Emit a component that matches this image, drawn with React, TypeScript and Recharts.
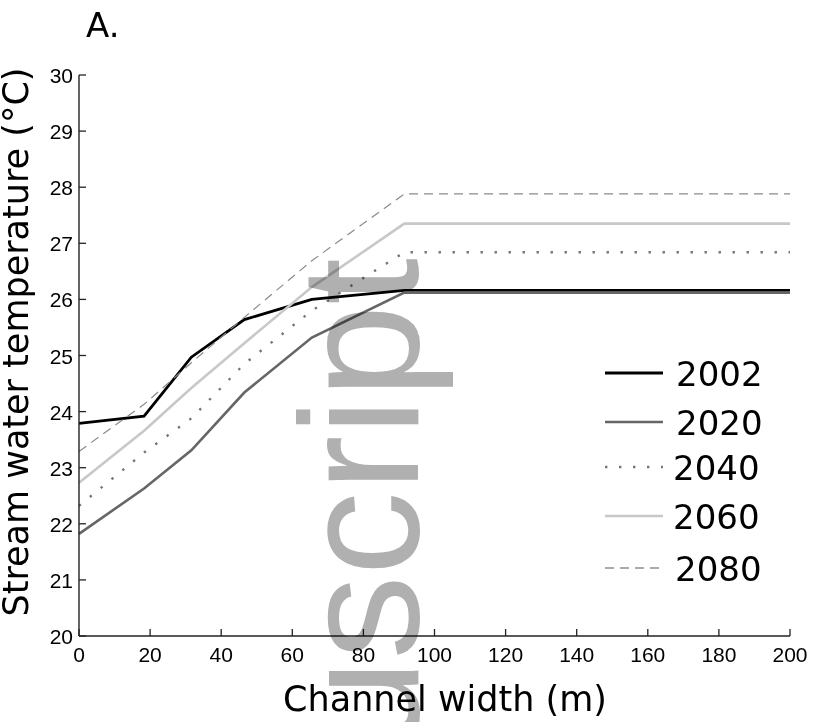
import React from 'react';
import { LineChart, Line, XAxis, YAxis, Legend, Label } from 'recharts';

// Channel width (m) at each breakpoint of the curves
const channelWidth = [0, 18.3, 31.6, 46.5, 65.5, 91.5, 200];
// Stream water temperature (°C) for each scenario year
const temp2002 = [23.79, 23.92, 24.97, 25.64, 26.0, 26.16, 26.16];
const temp2020 = [21.82, 22.63, 23.31, 24.34, 25.32, 26.12, 26.12];
const temp2040 = [22.32, 23.27, 23.88, 24.85, 25.8, 26.84, 26.84];
const temp2060 = [22.73, 23.66, 24.42, 25.22, 26.22, 27.35, 27.35];
const temp2080 = [23.29, 24.13, 24.87, 25.68, 26.69, 27.88, 27.88];

const years = ['2002', '2020', '2040', '2060', '2080'];
const seriesValues = [temp2002, temp2020, temp2040, temp2060, temp2080];

const xTicks = [0, 20, 40, 60, 80, 100, 120, 140, 160, 180, 200];
const yTicks = [20, 21, 22, 23, 24, 25, 26, 27, 28, 29, 30];

const data = channelWidth.map((w, i) => {
  const row: Record<string, number> = { width: w };
  years.forEach((y, k) => {
    row[y] = seriesValues[k][i];
  });
  return row;
});

const styles: Record<string, { stroke: string; width: number; dash?: string; legendStroke?: string; legendWidth?: number }> = {
  '2002': { stroke: '#000000', width: 2.8 },
  '2020': { stroke: '#666666', width: 2.6 },
  '2040': { stroke: '#777777', width: 2.4, dash: '2.4 11.6' },
  '2060': { stroke: '#c8c8c8', width: 2.6 },
  '2080': { stroke: '#8a8a8a', width: 1.2, dash: '9 6', legendStroke: '#aaaaaa', legendWidth: 2.2 },
};

const SANS = '"DejaVu Sans", Verdana, sans-serif';
const ARIAL = '"Liberation Sans", Arial, Helvetica, sans-serif';

const XTick = (props: any) => {
  const { x, y, payload } = props;
  return (
    <g>
      <line x1={x} x2={x} y1={y} y2={y - 7} stroke="#222" strokeWidth={1.3} />
      <text x={x} y={y + 26} textAnchor="middle" fontFamily={ARIAL} fontSize={21} fill="#000">
        {payload.value}
      </text>
    </g>
  );
};

const YTick = (props: any) => {
  const { x, y, payload } = props;
  return (
    <g>
      <line x1={x} x2={x + 7} y1={y} y2={y} stroke="#222" strokeWidth={1.3} />
      <text x={x - 6} y={y + 8} textAnchor="end" fontFamily={ARIAL} fontSize={21} fill="#000">
        {payload.value}
      </text>
    </g>
  );
};

const legendLineY = [28, 77, 122, 171, 223];
const legendTextX = [76, 76, 73, 73, 75];

const LegendBox = () => (
  <svg width={210} height={245} style={{ display: 'block' }}>
    {years.map((yr, i) => {
      const s = styles[yr];
      return (
        <g key={yr}>
          <line
            x1={5}
            x2={63}
            y1={legendLineY[i]}
            y2={legendLineY[i]}
            stroke={s.legendStroke || s.stroke}
            strokeWidth={s.legendWidth || s.width}
            strokeDasharray={s.dash}
          />
          <text x={legendTextX[i]} y={legendLineY[i] + 12.5} fontFamily={SANS} fontSize={34} fill="#000">
            {yr}
          </text>
        </g>
      );
    })}
  </svg>
);

export default function App() {
  return (
    <div style={{ position: 'absolute', left: 0, top: 0, width: 817, height: 722, background: '#fff', overflow: 'hidden' }}>
      <LineChart
        width={817}
        height={722}
        data={data}
        margin={{ top: 75, right: 27, bottom: 0, left: 0 }}
      >
        <XAxis
          dataKey="width"
          type="number"
          domain={[0, 200]}
          ticks={xTicks}
          interval={0}
          height={86}
          tickSize={0}
          tickMargin={0}
          tickLine={false}
          tick={<XTick />}
          axisLine={{ stroke: '#222', strokeWidth: 1.4 }}
        >
          <Label
            content={() => (
              <text x={445} y={711} textAnchor="middle" fontFamily={SANS} fontSize={35} fill="#000">
                Channel width (m)
              </text>
            )}
          />
        </XAxis>
        <YAxis
          type="number"
          domain={[20, 30]}
          ticks={yTicks}
          interval={0}
          width={79}
          tickSize={0}
          tickMargin={0}
          tickLine={false}
          tick={<YTick />}
          axisLine={{ stroke: '#222', strokeWidth: 1.4 }}
        >
          <Label
            content={() => (
              <text
                transform="translate(28, 342) rotate(-90)"
                textAnchor="middle"
                fontFamily={SANS}
                fontSize={35}
                fill="#000"
              >
                Stream water temperature (°C)
              </text>
            )}
          />
        </YAxis>
        <Legend
          layout="vertical"
          align="center"
          verticalAlign="middle"
          content={() => <LegendBox />}
          wrapperStyle={{ left: 600, top: 345, width: 210, height: 245 }}
        />
        {years.map((yr) => (
          <Line
            key={yr}
            type="linear"
            dataKey={yr}
            name={yr}
            stroke={styles[yr].stroke}
            strokeWidth={styles[yr].width}
            strokeDasharray={styles[yr].dash}
            dot={false}
            activeDot={false}
            isAnimationActive={false}
          />
        ))}
      </LineChart>
      <svg
        width={817}
        height={722}
        style={{ position: 'absolute', left: 0, top: 0, pointerEvents: 'none', mixBlendMode: 'multiply' }}
      >
        <text x={86} y={37} fontFamily={SANS} fontSize={34} fill="#000">
          A.
        </text>
        <text
          transform="translate(418, 258) rotate(-90)"
          textAnchor="end"
          fontFamily={ARIAL}
          fontSize={168}
          fill="#b0b0b0"
        >
          uscript
        </text>
      </svg>
    </div>
  );
}
